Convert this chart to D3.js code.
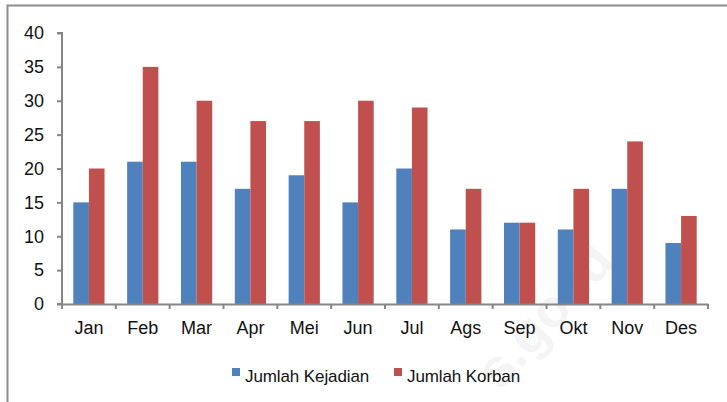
<!DOCTYPE html>
<html>
<head>
<meta charset="utf-8">
<script src="https://cdn.jsdelivr.net/npm/d3@7"></script>
<style>
  body { margin: 0; background: #fff; }
  text { font-family: "Liberation Sans", Arial, sans-serif; fill: #111; }
</style>
</head>
<body>
<div id="wrapper"></div>
<script>
const months = ["Jan", "Feb", "Mar", "Apr", "Mei", "Jun", "Jul", "Ags", "Sep", "Okt", "Nov", "Des"];
const kejadian = [15, 21, 21, 17, 19, 15, 20, 11, 12, 11, 17, 9];
const korban = [20, 35, 30, 27, 27, 30, 29, 17, 12, 17, 24, 13];
const seriesNames = ["Jumlah Kejadian", "Jumlah Korban"];
const yTicks = [0, 5, 10, 15, 20, 25, 30, 35, 40];

const colors = ["#4F81BD", "#C0504D"];

const data = months.map((m, i) => ({ month: m, values: [kejadian[i], korban[i]] }));

// dimensions
let dimensions = {
  width: 727,
  height: 402,
  margin: { top: 33, right: 19, bottom: 98, left: 62 }
};
dimensions.boundedWidth = dimensions.width - dimensions.margin.left - dimensions.margin.right;
dimensions.boundedHeight = dimensions.height - dimensions.margin.top - dimensions.margin.bottom;

const wrapper = d3.select("#wrapper")
  .append("svg")
  .attr("width", dimensions.width)
  .attr("height", dimensions.height);

// outer chart border
wrapper.append("rect")
  .attr("x", 7.5)
  .attr("y", 5.5)
  .attr("width", 740)
  .attr("height", 420)
  .attr("fill", "none")
  .attr("stroke", "#8c8c8c")
  .attr("stroke-width", 2);

// faint watermark
wrapper.append("text")
  .attr("transform", "translate(500, 392) rotate(-48)")
  .style("font-size", "54px")
  .style("font-weight", "bold")
  .style("fill", "#000")
  .style("fill-opacity", 0.045)
  .text("s.go.id");

const bounds = wrapper.append("g")
  .attr("transform", `translate(${dimensions.margin.left}, ${dimensions.margin.top})`);

// scales
const xScale = d3.scaleBand()
  .domain(months)
  .range([0, dimensions.boundedWidth])
  .paddingInner(0.42)
  .paddingOuter(0.21);

const innerScale = d3.scaleBand()
  .domain([0, 1])
  .range([0, xScale.bandwidth()]);

const yScale = d3.scaleLinear()
  .domain([0, 40])
  .range([dimensions.boundedHeight, 0]);

// bars
const groups = bounds.selectAll(".group")
  .data(data)
  .join("g")
  .attr("transform", (d) => `translate(${xScale(d.month)}, 0)`);

groups.selectAll("rect")
  .data((d) => d.values)
  .join("rect")
  .attr("x", (d, i) => innerScale(i))
  .attr("width", innerScale.bandwidth())
  .attr("y", (d) => yScale(d))
  .attr("height", (d) => dimensions.boundedHeight - yScale(d))
  .attr("fill", (d, i) => colors[i]);

// axes
const yAxisGenerator = d3.axisLeft(yScale)
  .tickValues(yTicks)
  .tickSize(5)
  .tickPadding(13);

const yAxis = bounds.append("g").call(yAxisGenerator);

const xAxisGenerator = d3.axisBottom(xScale)
  .tickSize(0)
  .tickPadding(17);

const xAxis = bounds.append("g")
  .attr("transform", `translate(0, ${dimensions.boundedHeight})`)
  .call(xAxisGenerator);

// category boundary ticks
xAxis.selectAll(".boundary")
  .data(d3.range(months.length + 1))
  .join("line")
  .attr("x1", (d) => d * dimensions.boundedWidth / months.length)
  .attr("x2", (d) => d * dimensions.boundedWidth / months.length)
  .attr("y1", 0)
  .attr("y2", 5)
  .attr("stroke", "#868686")
  .attr("stroke-width", 2);

[yAxis, xAxis].forEach((ax) => {
  ax.select(".domain").attr("stroke", "#868686").attr("stroke-width", 2);
  ax.selectAll(".tick line").attr("stroke", "#868686").attr("stroke-width", 2);
  ax.selectAll(".tick text")
    .style("font-family", "'Liberation Sans', Arial, sans-serif")
    .style("font-size", "18px")
    .attr("fill", "#111");
});
yAxis.select(".domain").attr("d", `M-5,${dimensions.boundedHeight}H0V0H-5`);

// legend
const legend = wrapper.append("g")
  .attr("transform", "translate(232, 368)");

const legendItems = legend.selectAll("g")
  .data(seriesNames)
  .join("g")
  .attr("transform", (d, i) => `translate(${i * 162}, 0)`);

legendItems.append("rect")
  .attr("width", 8)
  .attr("height", 8)
  .attr("fill", (d, i) => colors[i]);

legendItems.append("text")
  .attr("x", 13)
  .attr("y", 14)
  .style("font-size", "17px")
  .style("letter-spacing", "-0.1px")
  .text((d) => d);
</script>
</body>
</html>
